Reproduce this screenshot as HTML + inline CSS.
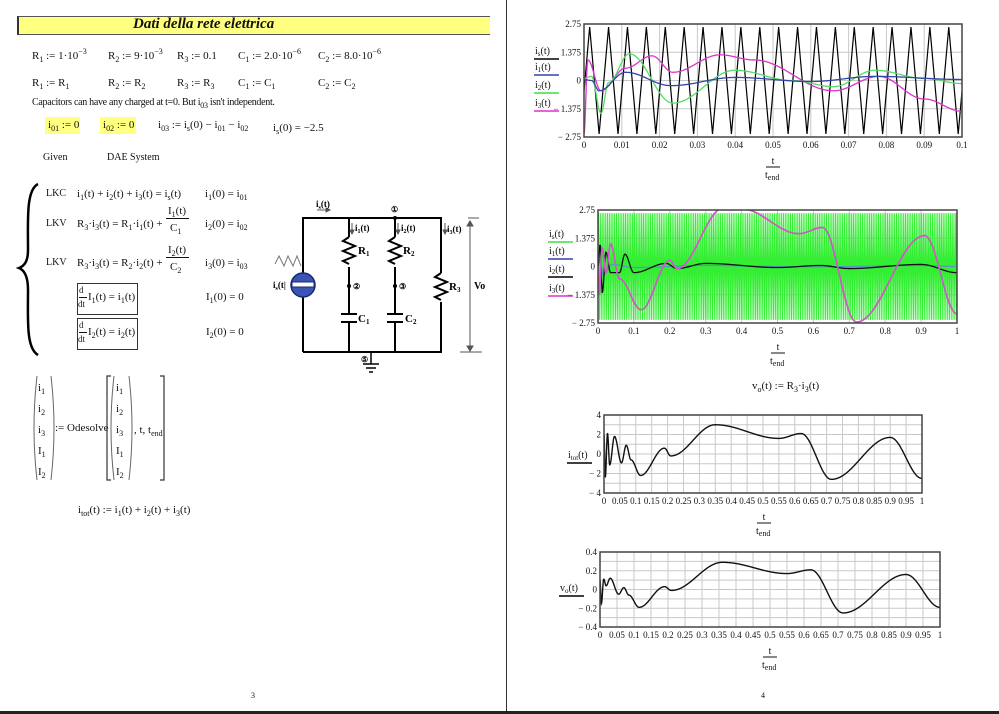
<!DOCTYPE html>
<html><head><meta charset="utf-8">
<style>
html,body{margin:0;padding:0;background:#fff;}
body{width:999px;height:714px;position:relative;overflow:hidden;font-family:"Liberation Serif",serif;font-size:11px;color:#111;}
.t{position:absolute;white-space:nowrap;line-height:1;}
sub{font-size:8px;vertical-align:-3px;line-height:0;}
sup{font-size:8px;vertical-align:5px;line-height:0;}
.hl{position:absolute;background:#ffff80;}
.box{position:absolute;border:1px solid #333;}
svg{position:absolute;left:0;top:0;}
</style></head><body>
<div style="position:absolute;left:506px;top:0;width:1px;height:714px;background:#333"></div>
<div style="position:absolute;left:0;top:711px;width:999px;height:3px;background:#222"></div>
<div class="t" style="left:251px;top:692px;font-size:8px">3</div>
<div class="t" style="left:761px;top:692px;font-size:8px">4</div>

<div style="position:absolute;left:17px;top:16px;width:471px;height:17px;background:#ffff80;border-top:1px solid #555;border-bottom:1px solid #555;border-left:2px solid #333"></div>
<div class="t" style="left:133px;top:17px;font-size:15px;font-style:italic;font-weight:bold">Dati della rete elettrica</div>

<div class="t" style="left:32px;top:51px">R<sub>1</sub> := 1·10<sup>−3</sup></div>
<div class="t" style="left:108px;top:51px">R<sub>2</sub> := 9·10<sup>−3</sup></div>
<div class="t" style="left:177px;top:51px">R<sub>3</sub> := 0.1</div>
<div class="t" style="left:238px;top:51px">C<sub>1</sub> := 2.0·10<sup>−6</sup></div>
<div class="t" style="left:318px;top:51px">C<sub>2</sub> := 8.0·10<sup>−6</sup></div>
<div class="t" style="left:32px;top:78px">R<sub>1</sub> := R<sub>1</sub></div>
<div class="t" style="left:108px;top:78px">R<sub>2</sub> := R<sub>2</sub></div>
<div class="t" style="left:177px;top:78px">R<sub>3</sub> := R<sub>3</sub></div>
<div class="t" style="left:238px;top:78px">C<sub>1</sub> := C<sub>1</sub></div>
<div class="t" style="left:318px;top:78px">C<sub>2</sub> := C<sub>2</sub></div>
<div class="t" style="left:32px;top:98px;font-size:10px;letter-spacing:-0.3px">Capacitors can have any charged at t=0. But i<sub>03</sub> isn't independent.</div>
<div class="hl" style="left:45px;top:117px;width:35px;height:17px"></div>
<div class="hl" style="left:100px;top:117px;width:36px;height:17px"></div>
<div class="t" style="left:48px;top:120px">i<sub>01</sub> := 0</div>
<div class="t" style="left:103px;top:120px">i<sub>02</sub> := 0</div>
<div class="t" style="left:158px;top:120px">i<sub>03</sub> := i<sub>s</sub>(0) − i<sub>01</sub> − i<sub>02</sub></div>
<div class="t" style="left:273px;top:123px">i<sub>s</sub>(0) = −2.5</div>
<div class="t" style="left:43px;top:153px;font-size:10px">Given</div>
<div class="t" style="left:107px;top:153px;font-size:10px">DAE System</div>

<div class="t" style="left:46px;top:189px;font-size:10px">LKC</div>
<div class="t" style="left:77px;top:189px">i<sub>1</sub>(t) + i<sub>2</sub>(t) + i<sub>3</sub>(t) = i<sub>s</sub>(t)</div>
<div class="t" style="left:205px;top:189px">i<sub>1</sub>(0) = i<sub>01</sub></div>
<div class="t" style="left:46px;top:219px;font-size:10px">LKV</div>
<div class="t" style="left:77px;top:219px">R<sub>3</sub>·i<sub>3</sub>(t) = R<sub>1</sub>·i<sub>1</sub>(t) +</div>
<div class="t" style="left:168px;top:206px">I<sub>1</sub>(t)</div>
<div style="position:absolute;left:166px;top:218px;width:23px;height:1px;background:#111"></div>
<div class="t" style="left:170px;top:223px">C<sub>1</sub></div>
<div class="t" style="left:205px;top:219px">i<sub>2</sub>(0) = i<sub>02</sub></div>
<div class="t" style="left:46px;top:258px;font-size:10px">LKV</div>
<div class="t" style="left:77px;top:258px">R<sub>3</sub>·i<sub>3</sub>(t) = R<sub>2</sub>·i<sub>2</sub>(t) +</div>
<div class="t" style="left:168px;top:245px">I<sub>2</sub>(t)</div>
<div style="position:absolute;left:166px;top:257px;width:23px;height:1px;background:#111"></div>
<div class="t" style="left:170px;top:262px">C<sub>2</sub></div>
<div class="t" style="left:205px;top:258px">i<sub>3</sub>(0) = i<sub>03</sub></div>
<div class="box" style="left:77px;top:283px;width:59px;height:30px"></div>
<div class="t" style="left:79px;top:286px;font-size:9px">d</div>
<div style="position:absolute;left:79px;top:297px;width:8px;height:1px;background:#111"></div>
<div class="t" style="left:78px;top:300px;font-size:9px">dt</div>
<div class="t" style="left:88px;top:292px">I<sub>1</sub>(t) = i<sub>1</sub>(t)</div>
<div class="t" style="left:206px;top:292px">I<sub>1</sub>(0) = 0</div>
<div class="box" style="left:77px;top:318px;width:59px;height:30px"></div>
<div class="t" style="left:79px;top:321px;font-size:9px">d</div>
<div style="position:absolute;left:79px;top:332px;width:8px;height:1px;background:#111"></div>
<div class="t" style="left:78px;top:335px;font-size:9px">dt</div>
<div class="t" style="left:88px;top:327px">I<sub>2</sub>(t) = i<sub>2</sub>(t)</div>
<div class="t" style="left:206px;top:327px">I<sub>2</sub>(0) = 0</div>

<div class="t" style="left:38px;top:378px;line-height:21px;font-size:11px">i<sub>1</sub><br>i<sub>2</sub><br>i<sub>3</sub><br>I<sub>1</sub><br>I<sub>2</sub></div>
<div class="t" style="left:55px;top:423px">:= Odesolve</div>
<div class="t" style="left:116px;top:378px;line-height:21px;font-size:11px">i<sub>1</sub><br>i<sub>2</sub><br>i<sub>3</sub><br>I<sub>1</sub><br>I<sub>2</sub></div>
<div class="t" style="left:134px;top:425px">, t, t<sub>end</sub></div>
<div class="t" style="left:78px;top:505px">i<sub>tot</sub>(t) := i<sub>1</sub>(t) + i<sub>2</sub>(t) + i<sub>3</sub>(t)</div>

<div class="t" style="left:752px;top:381px">v<sub>o</sub>(t) := R<sub>3</sub>·i<sub>3</sub>(t)</div>

<svg width="999" height="714" viewBox="0 0 999 714" font-family="Liberation Serif, serif" font-size="10">
<path d="M38 184 C26 190 28 220 28 250 C28 262 24 266 19 268 C24 270 28 276 28 290 C28 320 26 348 38 355" fill="none" stroke="#000" stroke-width="2.5"/>
<g fill="none" stroke="#666" stroke-width="1">
<path d="M37 376 Q31 428 37 480"/><path d="M51 376 Q57 428 51 480"/>
<path d="M114 376 Q108 428 114 480"/><path d="M129 376 Q135 428 129 480"/>
</g>
<g fill="none" stroke="#333" stroke-width="1.2">
<path d="M111 376 H107 V480 H111"/><path d="M160 376 H164 V480 H160"/>
</g>
<g stroke="#000" stroke-width="2" fill="none">
<path d="M303 352 V218 H441 V273"/>
<path d="M441 302 V352 H303"/>
<path d="M349 218 V237 M349 267 V314 M349 323 V352"/>
<path d="M395 218 V237 M395 267 V314 M395 323 V352"/>
<path d="M349 237 l-6 4 l12 5 l-12 5 l12 5 l-12 5 l6 3"/>
<path d="M395 237 l-6 4 l12 5 l-12 5 l12 5 l-12 5 l6 3"/>
<path d="M441 273 l-6 4 l12 5 l-12 5 l12 5 l-12 5 l6 3"/>
<path d="M341 314 H357 M341 322 H357 M387 314 H403 M387 322 H403"/>
<path d="M371 352 V364 M363 364 H379 M366 368 H376 M369 372 H373" stroke-width="1.5"/>
</g>
<circle cx="303" cy="285" r="12" fill="#3c55b5" stroke="#1a2a70" stroke-width="1.5"/>
<rect x="292" y="282" width="22" height="5" fill="#fff" stroke="#1a2a70" stroke-width="1"/>
<path d="M275 264 l4 -8 l5 10 l4 -10 l5 10 l4 -10 l4 10" fill="none" stroke="#777" stroke-width="1"/>
<circle cx="349" cy="286" r="2" fill="#000"/><circle cx="395" cy="286" r="2" fill="#000"/><circle cx="395" cy="218" r="2" fill="#000"/>
<g stroke="#555" stroke-width="1" fill="#555">
<path d="M468 218 H479 M460 352 H482 M470 222 V350"/>
<path d="M467 226 l3 -5 l3 5 Z M467 346 l3 5 l3 -5 Z"/>
<path d="M317 210 H330"/><path d="M330 210 l-4 -2 v4 Z"/>
<path d="M352 223 V232 M398 223 V232 M445 223 V232"/>
<path d="M350 230 l2 4 l2 -4 Z M396 230 l2 4 l2 -4 Z M443 230 l2 4 l2 -4 Z"/>
</g>
<g font-size="9" font-weight="bold">
<text x="316" y="207">i<tspan font-size="6" dy="2">s</tspan><tspan dy="-2">(t)</tspan></text>
<text x="355" y="231">i<tspan font-size="6" dy="2">1</tspan><tspan dy="-2">(t)</tspan></text>
<text x="401" y="231">i<tspan font-size="6" dy="2">2</tspan><tspan dy="-2">(t)</tspan></text>
<text x="447" y="232">i<tspan font-size="6" dy="2">3</tspan><tspan dy="-2">(t)</tspan></text>
<text x="273" y="288">i<tspan font-size="6" dy="2">s</tspan><tspan dy="-2">(t|</tspan></text>
<text x="358" y="254" font-size="11">R<tspan font-size="7" dy="2">1</tspan></text>
<text x="403" y="254" font-size="11">R<tspan font-size="7" dy="2">2</tspan></text>
<text x="449" y="290" font-size="11">R<tspan font-size="7" dy="2">3</tspan></text>
<text x="358" y="322" font-size="11">C<tspan font-size="7" dy="2">1</tspan></text>
<text x="405" y="322" font-size="11">C<tspan font-size="7" dy="2">2</tspan></text>
<text x="474" y="289" font-size="10">Vo</text>
<text x="391" y="212" font-size="8">①</text>
<text x="353" y="289" font-size="8">②</text>
<text x="399" y="289" font-size="8">③</text>
<text x="361" y="362" font-size="8">⑤</text>
</g>
<g id="plots"></g>
</svg>
<script>
(function(){
var NS="http://www.w3.org/2000/svg",G=document.getElementById("plots");
function el(n,a,p){var e=document.createElementNS(NS,n);for(var k in a)e.setAttribute(k,a[k]);(p||G).appendChild(e);return e;}
function txt(x,y,s,anchor,fs){var e=el("text",{x:x,y:y,"text-anchor":anchor||"start","font-size":fs||10,fill:"#111"});e.textContent=s;return e;}
function interp(p,t){if(t<=p[0][0])return p[0][1];for(var i=1;i<p.length;i++){if(t<=p[i][0]){var a=p[i-1],b=p[i],u=(t-a[0])/(b[0]-a[0]);u=(1-Math.cos(Math.PI*u))/2;return a[1]+(b[1]-a[1])*u;}}return p[p.length-1][1];}
var cid=0;
function plot(o){
 var x0=o.x,y0=o.y,w=o.w,h=o.h;
 var X=function(t){return x0+(t-o.t0)/(o.t1-o.t0)*w;},Y=function(v){return y0+h*(o.vmax-v)/(o.vmax-o.vmin);};
 for(var i=1;i<o.nx;i++)el("line",{x1:x0+w*i/o.nx,x2:x0+w*i/o.nx,y1:y0,y2:y0+h,stroke:"#c8c8c8","stroke-width":1});
 for(var j=1;j<o.ny;j++)el("line",{x1:x0,x2:x0+w,y1:y0+h*j/o.ny,y2:y0+h*j/o.ny,stroke:"#c8c8c8","stroke-width":1});
 cid++;var cp=el("clipPath",{id:"c"+cid});el("rect",{x:x0,y:y0,width:w,height:h},cp);
 var g=el("g",{"clip-path":"url(#c"+cid+")"});
 o.curves.forEach(function(c){var d="",n=c.n||600;for(var k=0;k<=n;k++){var t=o.t0+(o.t1-o.t0)*k/n;var v=c.f(t);d+=(k?"L":"M")+X(t).toFixed(2)+" "+Y(v).toFixed(2);}
  el("path",{d:d,fill:"none",stroke:c.col,"stroke-width":c.sw||1.3},g);});
 el("rect",{x:x0,y:y0,width:w,height:h,fill:"none",stroke:"#444","stroke-width":1.5});
 o.yl.forEach(function(l){txt(x0-3,Y(l[0])+3,l[1],"end",9);});
 o.xl.forEach(function(l){txt(X(l[0]),y0+h+11,l[1],"middle",9);});
 var cx=o.xc;txt(cx,y0+h+27,"t","middle",10);el("line",{x1:cx-7,x2:cx+7,y1:y0+h+30,y2:y0+h+30,stroke:"#111"});
 var e=txt(cx-8,y0+h+41,"t","start",10);var s=el("tspan",{dy:2,"font-size":8},e);s.textContent="end";
 o.leg.forEach(function(l){var e=txt(l[0],l[1],l[2],"start",10);var s=el("tspan",{dy:2,"font-size":7},e);s.textContent=l[3];var r=el("tspan",{dy:-2},e);r.textContent="(t)";
  el("line",{x1:l[0]-1,x2:l[0]+24,y1:l[1]+5,y2:l[1]+5,stroke:l[4],"stroke-width":1.5});});
}
function tri(t,ph,per,A){var u=((t-ph)/per)%1;if(u<0)u+=1;return u<0.5?A-4*A*u:-A+4*A*(u-0.5);}
var itot=[[0,2],[0.004,-2.4],[0.011,2.1],[0.018,-1.1],[0.033,1.8],[0.055,-0.9],[0.07,0.9],[0.085,-0.6],[0.115,-2.2],[0.19,0.6],[0.21,-0.2],[0.35,3],[0.55,1.6],[0.62,2.1],[0.715,-2.6],[0.9,1.7],[1,-2.5]];
var i3b=[[0,0],[0.003,-1.4],[0.012,0.9],[0.022,-0.3],[0.035,1.1],[0.06,-0.6],[0.12,-2.1],[0.2,0.3],[0.22,-0.1],[0.35,2.85],[0.4,2.8],[0.56,1.6],[0.625,1.9],[0.72,-2.7],[0.91,1.5],[1,-2.3]];
var i2b=[[0,0],[0.006,1.1],[0.012,-1.3],[0.022,0.7],[0.035,-0.3],[0.06,-0.3],[0.075,0.6],[0.1,-0.3],[0.19,0.15],[0.22,-0.1],[0.3,0.15],[0.5,-0.05],[0.62,0.05],[0.7,-0.1],[0.9,0.1],[1,-0.3]];
var i1b=[[0,0],[0.005,0.3],[0.015,-0.4],[0.04,0.1],[0.1,-0.05],[0.3,0.05],[0.6,-0.02],[0.9,0.05],[1,0]];
plot({x:584,y:24,w:378,h:113,t0:0,t1:0.1,vmin:-2.75,vmax:2.75,nx:10,ny:4,xc:773,
 yl:[[2.75,"2.75"],[1.375,"1.375"],[0,"0"],[-1.375,"− 1.375"],[-2.75,"− 2.75"]],
 xl:[[0,"0"],[0.01,"0.01"],[0.02,"0.02"],[0.03,"0.03"],[0.04,"0.04"],[0.05,"0.05"],[0.06,"0.06"],[0.07,"0.07"],[0.08,"0.08"],[0.09,"0.09"],[0.1,"0.1"]],
 leg:[[535,54,"i","s","#000"],[535,70,"i","1","#3344aa"],[535,88,"i","2","#44dd44"],[535,106,"i","3","#dd33cc"]],
 curves:[{col:"#000",sw:1.2,n:2000,f:function(t){return tri(t,0.0015,0.005,2.6);}},
 {col:"#dd33cc",f:function(t){return interp([[0,-2.6],[0.001,1.0],[0.0045,-0.5],[0.011,0.6],[0.018,1.2],[0.0235,0.4],[0.036,1.25],[0.045,1.0],[0.066,-0.5],[0.078,0.2],[0.09,-0.9],[0.1,-1.5]],t);}},
 {col:"#55dd66",f:function(t){return interp([[0,0.1],[0.002,0.2],[0.0045,-1.6],[0.0065,-0.1],[0.012,1.3],[0.0235,-1.1],[0.04,0.5],[0.055,0],[0.066,-0.3],[0.077,0.5],[0.09,0.1],[0.1,-0.15]],t);}},
 {col:"#3344aa",f:function(t){return interp([[0,0.05],[0.002,0],[0.004,-0.5],[0.011,0.4],[0.023,-0.25],[0.04,0.15],[0.06,-0.05],[0.077,0.2],[0.1,0.05]],t);}}]});
plot({x:598,y:210,w:359,h:113,t0:0,t1:1,vmin:-2.75,vmax:2.75,nx:10,ny:4,xc:778,
 yl:[[2.75,"2.75"],[1.375,"1.375"],[0,"0"],[-1.375,"− 1.375"],[-2.75,"− 2.75"]],
 xl:[[0,"0"],[0.1,"0.1"],[0.2,"0.2"],[0.3,"0.3"],[0.4,"0.4"],[0.5,"0.5"],[0.6,"0.6"],[0.7,"0.7"],[0.8,"0.8"],[0.9,"0.9"],[1,"1"]],
 leg:[[549,237,"i","s","#44dd44"],[549,254,"i","1","#3344aa"],[549,272,"i","2","#000"],[549,291,"i","3","#dd33cc"]],
 curves:[{col:"#33ee33",sw:1,n:4000,f:function(t){return tri(t,0.0015,0.005,2.6);}},
 {col:"#5599bb",f:function(t){return interp(i1b,t);}},
 {col:"#111",f:function(t){return interp(i2b,t);}},
 {col:"#aa77aa",sw:1.8,f:function(t){return interp(i3b,t);}},
 {col:"#ee44dd",sw:0.8,f:function(t){return interp(i3b,t);}}]});
var xl20=[];for(var k=0;k<=20;k++){var v=k*0.05;xl20.push([v,k==0?"0":k==20?"1":(+v.toFixed(2)).toString()]);}
plot({x:604,y:415,w:318,h:78,t0:0,t1:1,vmin:-4,vmax:4,nx:20,ny:8,xc:764,
 yl:[[4,"4"],[2,"2"],[0,"0"],[-2,"− 2"],[-4,"− 4"]],xl:xl20,
 leg:[[568,458,"i","tot","#000"]],
 curves:[{col:"#111",sw:1.4,n:1500,f:function(t){return interp(itot,t);}}]});
plot({x:600,y:552,w:340,h:75,t0:0,t1:1,vmin:-0.4,vmax:0.4,nx:20,ny:8,xc:770,
 yl:[[0.4,"0.4"],[0.2,"0.2"],[0,"0"],[-0.2,"− 0.2"],[-0.4,"− 0.4"]],xl:xl20,
 leg:[[560,591,"v","o","#000"]],
 curves:[{col:"#111",sw:1.4,n:1500,f:function(t){return 0.1*interp([[0,1],[0.004,-1.5],[0.011,1.1],[0.018,0.4],[0.03,1.2],[0.055,-0.5],[0.07,0.2],[0.085,-0.6],[0.115,-1.9],[0.19,0.3],[0.21,-0.1],[0.36,2.9],[0.55,1.7],[0.62,2.1],[0.715,-2.5],[0.9,1.6],[1,-1.9]],t);}}]});
})();
</script>
</body></html>
